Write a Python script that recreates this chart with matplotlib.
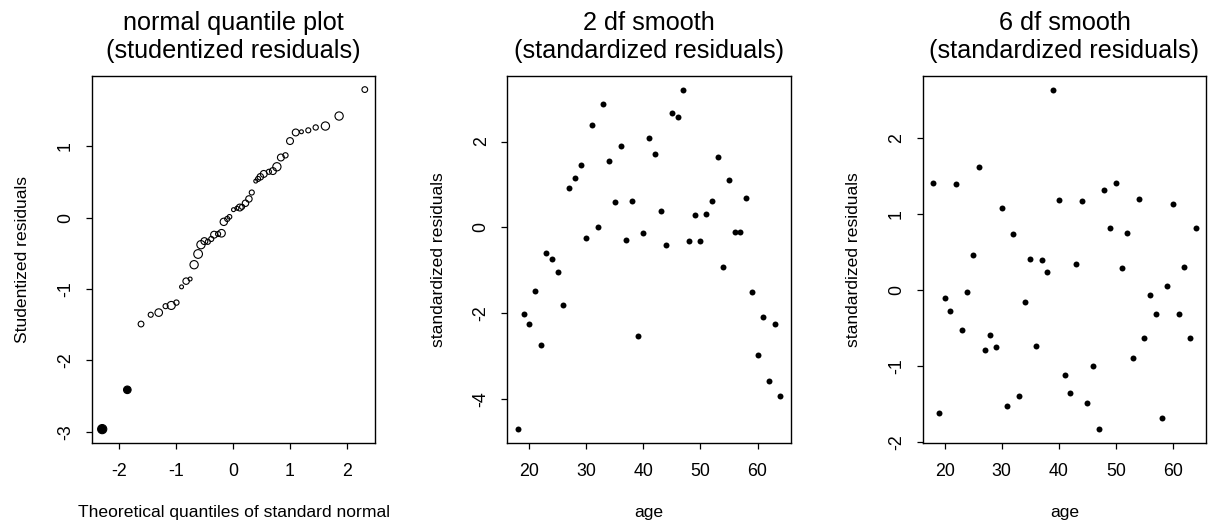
import numpy as np
import matplotlib
matplotlib.use("Agg")
import matplotlib.pyplot as plt

plt.rcParams['font.family'] = ['Liberation Sans', 'DejaVu Sans']
plt.rcParams['axes.unicode_minus'] = False

# normal quantile plot: theoretical quantile vs studentized residual
qq_theor = [-2.29, -1.85, -1.61, -1.44, -1.30, -1.18, -1.08, -0.99, -0.90, -0.82,
            -0.75, -0.68, -0.61, -0.56, -0.50, -0.44, -0.38, -0.33, -0.26, -0.20,
            -0.16, -0.10, -0.06, 0.01, 0.07, 0.12, 0.16, 0.22, 0.28, 0.33,
            0.40, 0.44, 0.48, 0.54, 0.63, 0.70, 0.77, 0.84, 0.92, 1.00,
            1.10, 1.20, 1.32, 1.45, 1.62, 1.86, 2.31]
qq_resid = [-2.96, -2.41, -1.49, -1.36, -1.33, -1.24, -1.23, -1.19, -0.97, -0.89,
            -0.86, -0.66, -0.51, -0.38, -0.33, -0.34, -0.30, -0.24, -0.23, -0.22,
            -0.06, -0.02, 0.01, 0.11, 0.13, 0.14, 0.15, 0.20, 0.26, 0.35,
            0.51, 0.54, 0.57, 0.61, 0.64, 0.65, 0.71, 0.84, 0.87, 1.07,
            1.19, 1.20, 1.22, 1.26, 1.28, 1.42, 1.79]
# symbol radius (px), grows with the point's influence
qq_radius = [4.0, 3.3, 2.5, 2.2, 3.3, 2.2, 3.5, 2.3, 1.7, 2.8,
             1.7, 3.6, 3.8, 3.6, 3.0, 2.2, 2.2, 3.0, 2.2, 3.3,
             3.2, 2.2, 2.0, 1.7, 1.7, 3.0, 2.2, 2.8, 2.8, 2.2,
             1.7, 2.2, 2.8, 3.0, 2.2, 3.0, 3.6, 3.0, 2.3, 3.0,
             3.0, 1.7, 2.2, 2.3, 3.6, 3.6, 2.5]
qq_flagged = [0, 1]

age = np.arange(18, 65)
resid_2df = [-4.70, -2.02, -2.26, -1.48, -2.74, -0.60, -0.74, -1.04, -1.81, 0.92,
             1.15, 1.46, -0.25, 2.39, 0.02, 2.88, 1.55, 0.59, 1.90, -0.30,
             0.61, -2.54, -0.13, 2.09, 1.71, 0.38, -0.41, 2.67, 2.58, 3.21,
             -0.32, 0.29, -0.32, 0.31, 0.61, 1.64, -0.93, 1.11, -0.11, -0.11,
             0.68, -1.51, -2.97, -2.09, -3.58, -2.25, -3.94]
resid_6df = [1.41, -1.62, -0.11, -0.28, 1.40, -0.53, -0.03, 0.46, 1.62, -0.79,
             -0.59, -0.75, 1.08, -1.52, 0.74, -1.39, -0.15, 0.41, -0.73, 0.40,
             0.24, 2.64, 1.19, -1.12, -1.35, 0.34, 1.17, -1.49, -1.00, -1.83,
             1.32, 0.82, 1.41, 0.29, 0.75, -0.90, 1.20, -0.63, -0.07, -0.32,
             -1.68, 0.05, 1.14, -0.32, 0.30, -0.63, 0.82]

W, H = 1208, 529
fig = plt.figure(figsize=(W / 100, H / 100), dpi=100)

ax_w, ax_h = 283.6 / W, 366.7 / H
ax_b = (H - 442.7) / H
lefts = [91.7 / W, 507.3 / W, 922.7 / W]


def pad_lim(v, frac=0.04):
    lo, hi = min(v), max(v)
    d = frac * (hi - lo)
    return lo - d, hi + d


def style_axes(ax, xticks, yticks, title, xlabel, ylabel):
    ax.set_xticks(xticks)
    ax.set_yticks(yticks)
    ax.tick_params(direction='out', length=4.5, width=0.9, labelsize=12.8,
                   top=False, right=False, colors='black')
    ax.tick_params(axis='x', pad=10.2)
    ax.tick_params(axis='y', pad=8.2)
    plt.setp(ax.get_yticklabels(), rotation=90, va='center')
    for s in ax.spines.values():
        s.set_linewidth(1.0)
    ax.set_title(title, fontsize=18.2, linespacing=1.25, pad=12.6)
    ax.set_xlabel(xlabel, fontsize=12.6)
    ax.set_ylabel(ylabel, fontsize=12.6)
    ax.xaxis.set_label_coords(0.5, -0.169)
    ax.yaxis.set_label_coords(-(91.7 - 30) / 283.6, 0.5)


# panel 1: normal quantile plot
ax1 = fig.add_axes([lefts[0], ax_b, ax_w, ax_h])
sizes = [(1.65 * r) ** 2 for r in qq_radius]
face = ['black' if i in qq_flagged else 'none' for i in range(len(qq_theor))]
ax1.scatter(qq_theor, qq_resid, s=sizes, facecolors=face, edgecolors='black',
            linewidths=0.8)
ax1.set_xlim(pad_lim(qq_theor))
ax1.set_ylim(pad_lim(qq_resid))
style_axes(ax1, [-2, -1, 0, 1, 2], [-3, -2, -1, 0, 1],
           "normal quantile plot\n(studentized residuals)",
           "Theoretical quantiles of standard normal", "Studentized residuals")

# panel 2: residuals from the 2 df smooth
ax2 = fig.add_axes([lefts[1], ax_b, ax_w, ax_h])
ax2.plot(age, resid_2df, 'o', color='black', markersize=4.3, markeredgewidth=0)
ax2.set_xlim(pad_lim(age))
ax2.set_ylim(pad_lim(resid_2df))
style_axes(ax2, [20, 30, 40, 50, 60], [-4, -2, 0, 2],
           "2 df smooth\n(standardized residuals)", "age", "standardized residuals")

# panel 3: residuals from the 6 df smooth
ax3 = fig.add_axes([lefts[2], ax_b, ax_w, ax_h])
ax3.plot(age, resid_6df, 'o', color='black', markersize=4.3, markeredgewidth=0)
ax3.set_xlim(pad_lim(age))
ax3.set_ylim(pad_lim(resid_6df))
style_axes(ax3, [20, 30, 40, 50, 60], [-2, -1, 0, 1, 2],
           "6 df smooth\n(standardized residuals)", "age", "standardized residuals")

fig.savefig("out.png", dpi=100, facecolor='white')
